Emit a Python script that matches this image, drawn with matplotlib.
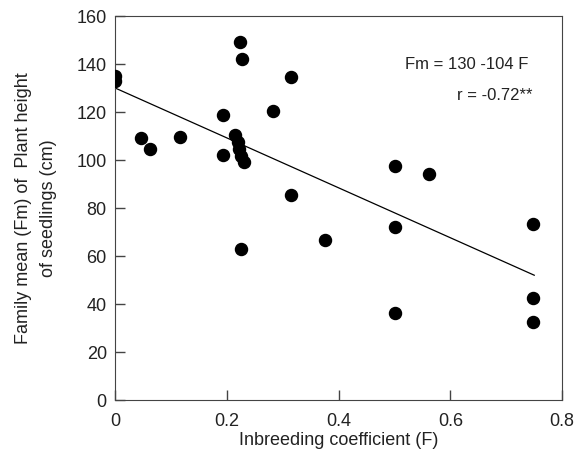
import matplotlib
matplotlib.use('Agg')
import matplotlib.pyplot as plt
import numpy as np

plt.rcParams['font.family'] = ['Liberation Sans', 'DejaVu Sans']

# inbreeding coefficient (F) and family mean height (cm)
inbreeding = [0.0, 0.0, 0.047, 0.063, 0.116, 0.193, 0.193, 0.223, 0.227,
              0.215, 0.219, 0.222, 0.226, 0.230, 0.225, 0.282, 0.315, 0.315,
              0.376, 0.5, 0.5, 0.5, 0.561, 0.748, 0.748, 0.748]
height = [135, 133, 109, 104.6, 109.5, 118.7, 102, 149.3, 142,
          110.5, 107.5, 104.5, 101.5, 99, 62.8, 120.4, 134.5, 85.4,
          66.7, 97.6, 72.2, 36.1, 94.2, 73.2, 42.6, 32.6]

# regression Fm = 130 - 104 F
intercept = 130
slope = -104
fit_x = [0.0, 0.75]

fig = plt.figure(figsize=(5.76, 4.66), dpi=100)
ax = fig.add_axes([0.2, 0.1416, 0.776, 0.824])

ax.scatter(inbreeding, height, s=75, color='black', zorder=3)
fx = np.array(fit_x)
ax.plot(fx, intercept + slope * fx, color='black', linewidth=0.9)

ax.set_xlim(0, 0.8)
ax.set_ylim(0, 160)
ax.set_xticks([0, 0.2, 0.4, 0.6, 0.8])
ax.set_xticklabels(['0', '0.2', '0.4', '0.6', '0.8'])
ax.set_yticks(range(0, 161, 20))
ax.tick_params(direction='in', length=7, width=1, labelsize=13, pad=6,
               color='#444444', labelcolor='#222222')
ax.tick_params(axis='x', pad=9)
for s in ax.spines.values():
    s.set_color('#444444')

ax.set_xlabel('Inbreeding coefficient (F)', fontsize=13, labelpad=2,
              color='#222222')
ax.set_ylabel('Family mean (Fm) of  Plant height\nof seedlings (cm)', fontsize=13,
              labelpad=14, linespacing=1.6, color='#222222')

ax.text(0.739, 139.6, 'Fm = 130 -104 F', fontsize=12, ha='right', va='center',
        color='#222222')
ax.text(0.746, 126.7, 'r = -0.72**', fontsize=12, ha='right', va='center',
        color='#222222')

fig.savefig('out.png', dpi=100)
